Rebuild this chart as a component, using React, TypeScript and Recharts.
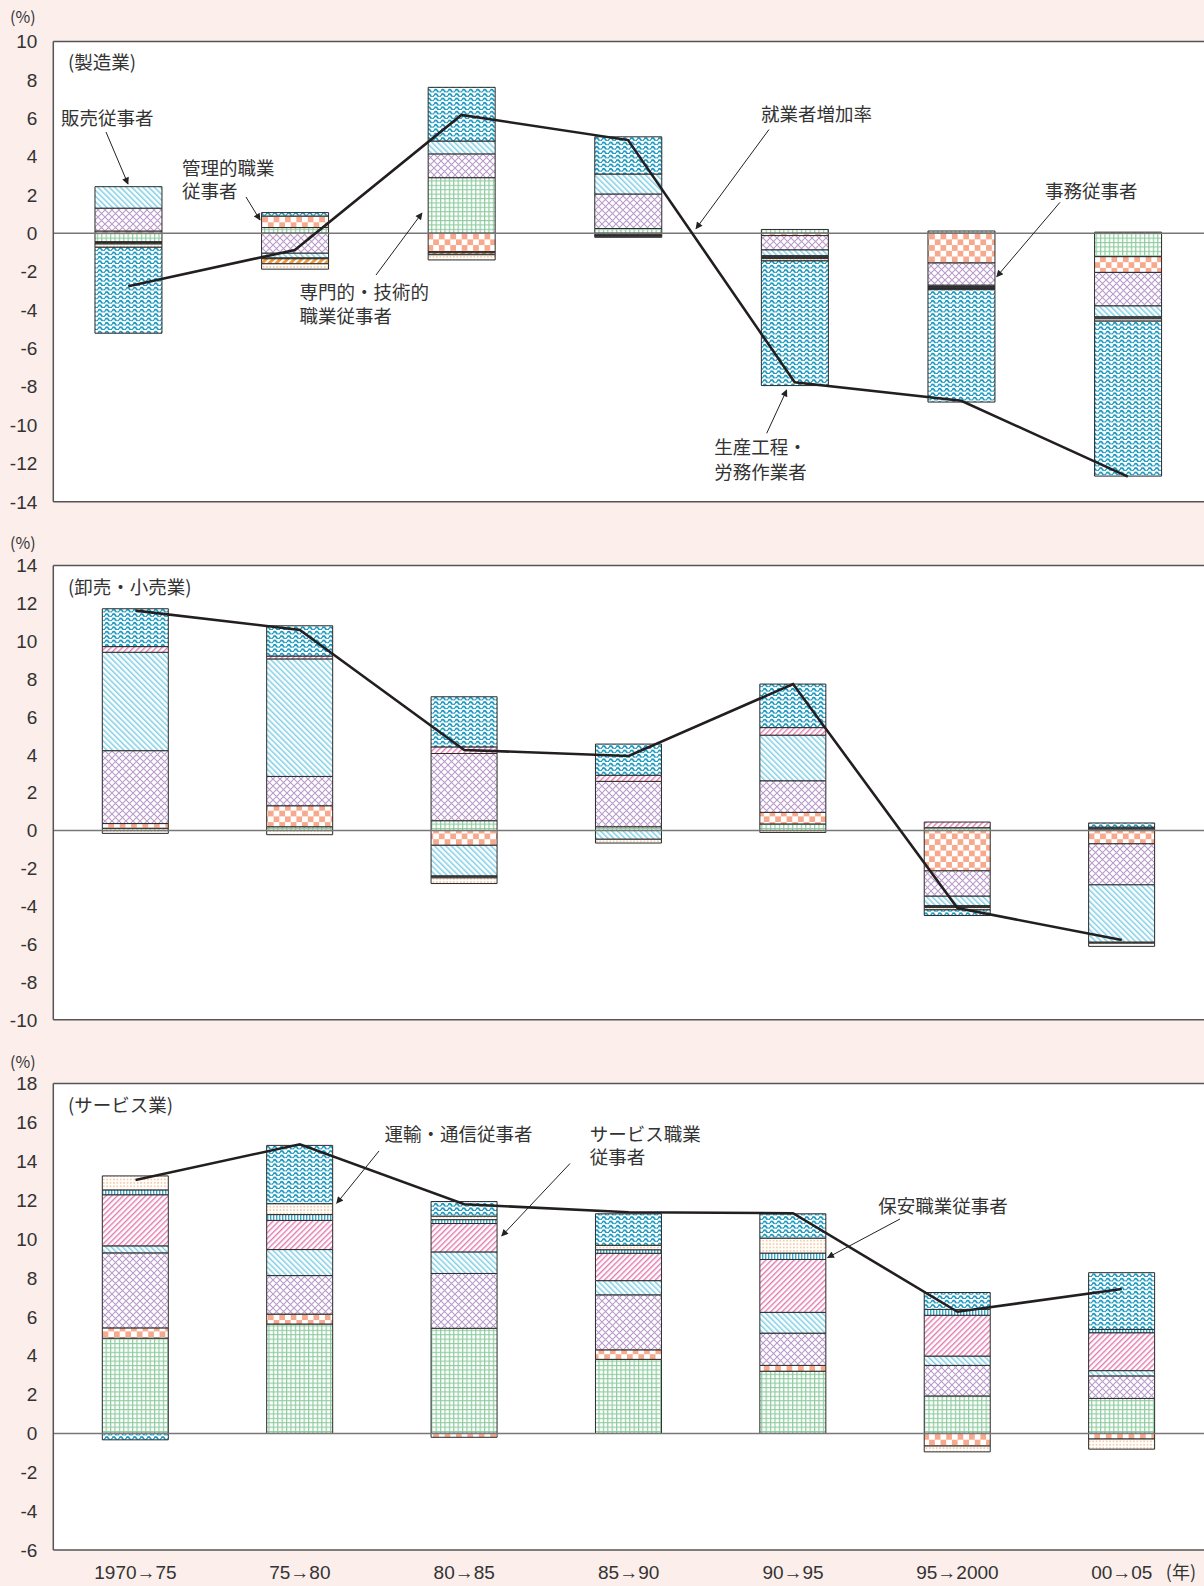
import React from 'react';
import { ComposedChart, Bar, Line, XAxis, YAxis, ReferenceLine, CartesianGrid } from 'recharts';

const categories = ['1970→75', '75→80', '80→85', '85→90', '90→95', '95→2000', '00→05'];

const seriesNames = [
  '専門的・技術的職業従事者',
  '管理的職業従事者',
  '事務従事者',
  '販売従事者',
  'サービス職業従事者',
  '保安職業従事者',
  '農林漁業作業者',
  '運輸・通信従事者',
  '生産工程・労務作業者',
];
const patternIds = ['pA', 'pB', 'pC', 'pD', 'pE', 'pF', 'pG', 'pH', 'pI'];

// 製造業
const mfgA = [-0.44, 0.3, 2.9, 0.25, 0.2, 0.12, -1.22];
const mfgB = [0.12, 0.6, -0.96, -0.08, -0.12, -1.55, -0.82];
const mfgC = [1.19, -1.04, 1.24, 1.8, -0.75, -1.16, -1.75];
const mfgD = [1.12, -0.25, 0.67, 1.04, -0.3, -0.06, -0.57];
const mfgE = [-0.04, -0.02, -0.03, -0.03, -0.05, -0.04, -0.05];
const mfgF = [-0.03, -0.02, -0.03, -0.03, -0.05, -0.04, -0.05];
const mfgG = [-0.05, -0.26, -0.1, -0.02, -0.05, -0.03, 0.06];
const mfgH = [-0.17, -0.28, -0.27, -0.05, -0.12, -0.06, -0.12];
const mfgI = [-4.48, 0.18, 2.8, 1.94, -6.5, -5.86, -8.08];
const mfgRate = [-2.76, -0.87, 6.17, 4.86, -7.77, -8.73, -12.69];

// 卸売・小売業
const wsA = [0.12, 0.2, 0.52, 0.2, 0.35, 0.15, 0.08];
const wsB = [0.25, 1.11, -0.78, 0, 0.61, -2.13, -0.7];
const wsC = [3.85, 1.55, 3.55, 2.4, 1.67, -1.34, -2.17];
const wsD = [5.2, 6.21, -1.62, -0.46, 2.41, -0.5, -3.03];
const wsE = [0.3, 0.15, 0.35, 0.32, 0.4, 0.3, 0.05];
const wsF = [0, 0, -0.05, 0, 0, -0.05, 0.05];
const wsG = [0, 0, -0.05, 0, 0, -0.05, -0.05];
const wsH = [-0.15, -0.22, -0.3, -0.2, -0.1, -0.12, -0.17];
const wsI = [2.0, 1.6, 2.65, 1.65, 2.3, -0.3, 0.22];
const wsRate = [11.62, 10.6, 4.26, 3.94, 7.74, -4.1, -5.78];

// サービス業
const svA = [4.9, 5.63, 5.41, 3.81, 3.2, 1.93, 1.8];
const svB = [0.53, 0.51, -0.2, 0.49, 0.3, -0.65, -0.29];
const svC = [3.86, 1.98, 2.82, 2.83, 1.66, 1.57, 1.16];
const svD = [0.36, 1.34, 1.11, 0.73, 1.07, 0.48, 0.27];
const svE = [2.63, 1.5, 1.46, 1.41, 2.72, 2.1, 1.95];
const svF = [0.25, 0.3, 0.2, 0.18, 0.33, 0.3, 0.17];
const svG = [0, 0, 0, 0, 0, 0, 0];
const svH = [0.72, 0.56, 0.18, 0.23, 0.77, -0.3, -0.52];
const svI = [-0.33, 3.0, 0.75, 1.62, 1.25, 0.87, 2.92];
const svRate = [13.04, 14.88, 11.79, 11.38, 11.33, 6.26, 7.43];

const mfgTicks = [-14, -12, -10, -8, -6, -4, -2, 0, 2, 4, 6, 8, 10];
const wsTicks = [-10, -8, -6, -4, -2, 0, 2, 4, 6, 8, 10, 12, 14];
const svTicks = [-6, -4, -2, 0, 2, 4, 6, 8, 10, 12, 14, 16, 18];

const build = (series: number[][], rate: number[]) =>
  categories.map((name, i) => {
    const row: any = { x: i, name, rate: rate[i] };
    series.forEach((s, k) => {
      row['s' + k] = s[i];
    });
    return row;
  });

const mfgData = build([mfgA, mfgB, mfgC, mfgD, mfgE, mfgF, mfgG, mfgH, mfgI], mfgRate);
const wsData = build([wsA, wsB, wsC, wsD, wsE, wsF, wsG, wsH, wsI], wsRate);
const svData = build([svA, svB, svC, svD, svE, svF, svG, svH, svI], svRate);

const NUM_FONT = "'Liberation Sans', Arial, sans-serif";
const JP_FONT = "'Noto Sans CJK JP', 'Noto Sans', sans-serif";
const BG = '#fbeeeb';

const Patterns = () => (
  <svg width={0} height={0} style={{ position: 'absolute' }}>
    <defs>
      <pattern id="pA" width="4.4" height="4.4" patternUnits="userSpaceOnUse">
        <rect width="4.4" height="4.4" fill="#fff" />
        <path d="M0 0.6H4.4M0.6 0V4.4" stroke="#8fcca0" strokeWidth="1.2" />
      </pattern>
      <pattern id="pB" width="11.4" height="11.4" patternUnits="userSpaceOnUse">
        <rect width="11.4" height="11.4" fill="#fff" />
        <rect width="5.7" height="5.7" fill="#f6a98c" />
        <rect x="5.7" y="5.7" width="5.7" height="5.7" fill="#f6a98c" />
      </pattern>
      <pattern id="pC" width="7" height="7" patternUnits="userSpaceOnUse">
        <rect width="7" height="7" fill="#fff" />
        <path d="M0 0L7 7M7 0L0 7" stroke="#bb9bcc" strokeWidth="1.1" />
      </pattern>
      <pattern id="pD" width="4" height="4" patternUnits="userSpaceOnUse" patternTransform="rotate(-45)">
        <rect width="4" height="4" fill="#fff" />
        <rect width="1.5" height="4" fill="#7fd0e6" />
      </pattern>
      <pattern id="pE" width="4" height="4" patternUnits="userSpaceOnUse" patternTransform="rotate(45)">
        <rect width="4" height="4" fill="#fff" />
        <rect width="1.4" height="4" fill="#e27aaf" />
      </pattern>
      <pattern id="pF" width="3" height="3" patternUnits="userSpaceOnUse">
        <rect width="3" height="3" fill="#fff" />
        <rect width="1.4" height="3" fill="#3aa6c8" />
      </pattern>
      <pattern id="pG" width="5" height="5" patternUnits="userSpaceOnUse" patternTransform="rotate(45)">
        <rect width="5" height="5" fill="#fff" />
        <rect width="3" height="5" fill="#f29a3a" />
      </pattern>
      <pattern id="pH" width="3.4" height="3.4" patternUnits="userSpaceOnUse">
        <rect width="3.4" height="3.4" fill="#fff" />
        <circle cx="1.7" cy="1.7" r="0.9" fill="#f6c294" />
      </pattern>
      <pattern id="pI" width="7" height="4.4" patternUnits="userSpaceOnUse">
        <rect width="7" height="4.4" fill="#fff" />
        <path d="M0 3 Q1.75 0.1 3.5 3 T7 3" stroke="#1596bd" strokeWidth="1.7" fill="none" />
      </pattern>
      <marker id="arrowHead" viewBox="0 0 10 10" refX="9" refY="5" markerWidth="9" markerHeight="7" markerUnits="userSpaceOnUse" orient="auto">
        <path d="M0 0L10 5L0 10z" fill="#222" />
      </marker>
    </defs>
  </svg>
);

const XTick = (props: any) => {
  const { x, y, payload } = props;
  const label = categories[payload.value] ?? '';
  return (
    <g>
      <text x={x} y={y + 21} textAnchor="middle" fontSize={19} fontFamily={NUM_FONT} fill="#333">
        {label}
      </text>
      {payload.value === 6 && (
        <text x={x + 44} y={y + 21} fontSize={18} fontFamily={JP_FONT} fill="#333">
          (年)
        </text>
      )}
    </g>
  );
};

type PanelProps = {
  data: any[];
  yDomain: [number, number];
  yTicks: number[];
  xDomain: [number, number];
  top: number;
  height: number;
  plotTop: number;
  plotBottom: number;
  showX: boolean;
  barSize: number;
};

function Panel({ data, yDomain, yTicks, xDomain, top, height, plotTop, plotBottom, showX, barSize }: PanelProps) {
  const xAxisH = showX ? 36 : 0;
  const margin = { top: plotTop - top, right: 0, left: 0, bottom: top + height - plotBottom - xAxisH };
  return (
    <div style={{ position: 'absolute', left: 0, top, width: 1204, height }}>
      <ComposedChart width={1204} height={height} data={data} margin={margin} stackOffset="sign">
        <CartesianGrid fill="#ffffff" fillOpacity={1} horizontal={false} vertical={false} stroke="none" />
        <XAxis
          type="number"
          dataKey="x"
          domain={xDomain}
          allowDataOverflow
          hide={!showX}
          ticks={[0, 1, 2, 3, 4, 5, 6]}
          interval={0}
          tickLine={false}
          axisLine={{ stroke: '#555', strokeWidth: 1.5 }}
          height={xAxisH}
          tick={<XTick />}
        />
        <YAxis
          type="number"
          domain={yDomain}
          ticks={yTicks}
          interval={0}
          allowDataOverflow
          width={53.3}
          tickSize={6}
          tickLine={false}
          tickMargin={10}
          axisLine={{ stroke: '#555', strokeWidth: 1.5 }}
          tick={{ fontSize: 19, fill: '#333', fontFamily: NUM_FONT }}
        />
        <ReferenceLine y={yDomain[1]} stroke="#555" strokeWidth={1.5} />
        {!showX && <ReferenceLine y={yDomain[0]} stroke="#555" strokeWidth={1.5} />}
        <ReferenceLine y={0} stroke="#777" strokeWidth={1.5} />
        {patternIds.map((p, k) => (
          <Bar
            key={p}
            dataKey={'s' + k}
            name={seriesNames[k]}
            stackId="a"
            fill={`url(#${p})`}
            stroke="#2b2b2b"
            strokeWidth={1}
            barSize={barSize}
            isAnimationActive={false}
          />
        ))}
        <Line
          type="linear"
          dataKey="rate"
          name="就業者増加率"
          stroke="#231f20"
          strokeWidth={2.6}
          dot={false}
          activeDot={false}
          isAnimationActive={false}
        />
      </ComposedChart>
    </div>
  );
}

const T = (p: { x: number; y: number; children: React.ReactNode; size?: number }) => (
  <text x={p.x} y={p.y} dominantBaseline="central" fontSize={p.size ?? 18.5} fontFamily={JP_FONT} fill="#333">
    {p.children}
  </text>
);

const Arrow = (p: { x1: number; y1: number; x2: number; y2: number }) => (
  <line x1={p.x1} y1={p.y1} x2={p.x2} y2={p.y2} stroke="#222" strokeWidth={1} markerEnd="url(#arrowHead)" />
);

const Overlay = () => (
  <svg width={1204} height={1586} style={{ position: 'absolute', left: 0, top: 0, pointerEvents: 'none' }}>
    <T x={10} y={15.5} size={16}>(%)</T>
    <T x={10} y={541.5} size={16}>(%)</T>
    <T x={10} y={1060.5} size={16}>(%)</T>
    <T x={68} y={61}>(製造業)</T>
    <T x={68} y={586}>(卸売・小売業)</T>
    <T x={68} y={1104}>(サービス業)</T>

    <T x={61} y={117.4}>販売従事者</T>
    <Arrow x1={106} y1={132} x2={128} y2={184} />
    <T x={182} y={167}>管理的職業</T>
    <T x={182} y={190.2}>従事者</T>
    <Arrow x1={246} y1={197} x2={260} y2={220} />
    <T x={299.5} y={291.4}>専門的・技術的</T>
    <T x={299.5} y={315}>職業従事者</T>
    <Arrow x1={376} y1={275} x2={422} y2={213} />
    <T x={761} y={113.3}>就業者増加率</T>
    <Arrow x1={769} y1={129.5} x2={696} y2={228.7} />
    <T x={1045} y={190.2}>事務従事者</T>
    <Arrow x1={1060} y1={202.3} x2={996.7} y2={276.7} />
    <T x={714.3} y={446.2}>生産工程・</T>
    <T x={714.3} y={470.8}>労務作業者</T>
    <Arrow x1={766.7} y1={433.3} x2={786.7} y2={390} />

    <T x={384.5} y={1133.2}>運輸・通信従事者</T>
    <Arrow x1={379} y1={1151} x2={336.7} y2={1203.3} />
    <T x={589.8} y={1132.5}>サービス職業</T>
    <T x={589.8} y={1155.6}>従事者</T>
    <Arrow x1={570} y1={1163.5} x2={501.7} y2={1236} />
    <T x={878.2} y={1205.4}>保安職業従事者</T>
    <Arrow x1={900} y1={1219} x2={827.6} y2={1257.6} />
  </svg>
);

export default function App() {
  return (
    <div style={{ position: 'absolute', left: 0, top: 0, width: 1204, height: 1586, overflow: 'hidden', background: BG }}>
      <Patterns />
      <Panel
        data={mfgData}
        yDomain={[-14, 10]}
        yTicks={mfgTicks}
        xDomain={[-0.45, 6.457]}
        top={0}
        height={520}
        plotTop={41.5}
        plotBottom={501.8}
        showX={false}
        barSize={67}
      />
      <Panel
        data={wsData}
        yDomain={[-10, 14]}
        yTicks={wsTicks}
        xDomain={[-0.5, 6.5]}
        top={520}
        height={515}
        plotTop={565.6}
        plotBottom={1019.8}
        showX={false}
        barSize={66}
      />
      <Panel
        data={svData}
        yDomain={[-6, 18]}
        yTicks={svTicks}
        xDomain={[-0.5, 6.5]}
        top={1035}
        height={551}
        plotTop={1083.6}
        plotBottom={1550}
        showX={true}
        barSize={66}
      />
      <Overlay />
    </div>
  );
}
